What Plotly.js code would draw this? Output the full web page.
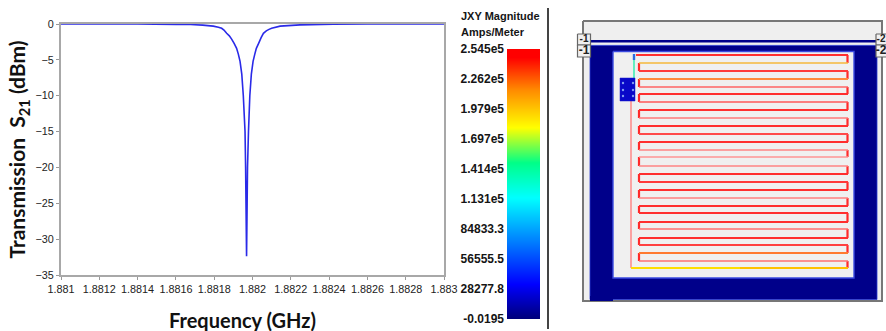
<!DOCTYPE html>
<html>
<head>
<meta charset="utf-8">
<script src="https://cdn.plot.ly/plotly-3.0.1.min.js"></script>
<style>html,body{margin:0;padding:0;background:#fff;overflow:hidden}</style>
</head>
<body>
<div id="chart" style="width:886px;height:331px"></div>
<script>
// ---- S21 curve ----
var freqGHz = [1.881, 1.8812, 1.8814, 1.88149, 1.8816, 1.881677, 1.88174, 1.881795, 1.881822, 1.881839, 1.881851, 1.881865, 1.881879, 1.881891, 1.881904, 1.881917, 1.881926, 1.881935, 1.881944, 1.881952, 1.881961, 1.881964, 1.881966, 1.881969, 1.881972, 1.881974, 1.881979, 1.881986, 1.881994, 1.882003, 1.882012, 1.88202, 1.882032, 1.882045, 1.882057, 1.882072, 1.882086, 1.8821, 1.882144, 1.882248, 1.882422, 1.8826, 1.8828, 1.883];
var s21dBm  = [0, 0, 0, -0.04, -0.05, -0.08, -0.16, -0.3, -0.45, -0.6, -0.85, -1.3, -1.65, -2.1, -2.7, -3.4, -4.2, -5.2, -7, -10, -15, -20, -25, -32.4, -25, -20, -15, -10, -7, -5.2, -4.2, -3.4, -2.7, -1.9, -1.3, -0.95, -0.75, -0.6, -0.3, -0.12, -0.04, 0, 0, 0];
var freqTicks = [1.881, 1.8812, 1.8814, 1.8816, 1.8818, 1.882, 1.8822, 1.8824, 1.8826, 1.8828, 1.883];
var freqTickLabels = ['1.881', '1.8812', '1.8814', '1.8816', '1.8818', '1.882', '1.8822', '1.8824', '1.8826', '1.8828', '1.883'];
var s21Ticks = [0, -5, -10, -15, -20, -25, -30, -35];

// ---- Field-strength legend ----
var jxyValues = [254500, 226200, 197900, 169700, 141400, 113100, 84833.3, 56555.5, 28277.8, -0.0195];
var jxyLabels = ['2.545e5', '2.262e5', '1.979e5', '1.697e5', '1.414e5', '1.131e5', '84833.3', '56555.5', '28277.8', '-0.0195'];
var jxyStops = [[0, '#000078'], [0.13, '#0000ff'], [0.45, '#00ffff'], [0.58, '#00ff88'], [0.71, '#ffff00'], [0.85, '#ff8a00'], [0.97, '#ff0000'], [1, '#ff0000']];

// ---- Layout drawing of the resonator ----
var rowY = [55, 63, 71, 79, 87, 94, 102, 110, 118, 126, 134, 142, 150, 157, 166, 174, 182, 190, 198, 206, 213, 222, 229, 238, 245, 253, 261, 268];
var rowColor = ['#ff2f2f', '#f6b93b', '#ff3b3b', '#ff8a3c', '#ff6565', '#ff2f2f', '#ff5858', '#ff2f2f', '#ff7a7a', '#ff2f2f', '#ff4a4a', '#ff2f2f', '#ff8585', '#ff9494', '#ff8585', '#ff2f2f', '#ff3a3a', '#ff2f2f', '#ff8080', '#ff2f2f', '#ff3030', '#ff2f2f', '#ff7070', '#ff2f2f', '#ff4040', '#ff7a30', '#ff7070', '#ffc000'];

var FONT = 'Liberation Sans, Arial, sans-serif';
var traces = [];
function panel(x, y, o) {
  o = o || {};
  var t = {x: x, y: y, xaxis: 'x3', yaxis: 'y3', type: 'scatter', mode: o.mode || 'lines',
    hoverinfo: 'skip', showlegend: false, cliponaxis: false, line: {color: o.color || '#000', width: o.width === undefined ? 1 : o.width, simplify: false}};
  if (o.fill) { t.fill = 'toself'; t.fillcolor = o.fill; }
  if (o.text) { t.text = o.text; t.textfont = o.font; t.textposition = 'middle center'; }
  if (o.marker) { t.marker = o.marker; }
  traces.push(t);
}
function rect(x0, y0, x1, y1, o) { panel([x0, x1, x1, x0, x0], [y0, y0, y1, y1, y0], o); }

// S21 curve
traces.push({x: freqGHz, y: s21dBm, type: 'scatter', mode: 'lines', xaxis: 'x', yaxis: 'y', cliponaxis: false,
  line: {color: '#2a2ae8', width: 1.6, simplify: false}, showlegend: false, hoverinfo: 'x+y'});

// colour legend
traces.push({x: [0, 1], y: jxyValues, z: jxyValues.map(function (v) { return [v, v]; }), type: 'heatmap',
  xaxis: 'x2', yaxis: 'y2', colorscale: jxyStops, zmin: -0.0195, zmax: 254500, zsmooth: 'best', showscale: false, hoverinfo: 'skip'});

// outer frame, ground plane, cavity
rect(583, 21, 882, 301, {color: '#777777', width: 2, fill: '#efefef'});
rect(590, 40, 877, 42.6, {color: '#00008a', width: 0, fill: '#00008a'});
rect(590, 45.4, 877, 299.5, {color: '#2a3ad0', width: 0.8, fill: '#00008a'});
rect(590, 296, 613, 301, {color: '#00008a', width: 0, fill: '#00008a'});
rect(613, 51.5, 854, 278, {color: '#3a4ae0', width: 1.4, fill: '#f0f0f0'});

// feed line and pad
panel([631, 631], [101, 268], {color: '#ff8080', width: 1.4});
panel([634, 634], [58, 78], {color: '#55eebb', width: 1.8});
panel([634, 634], [54, 60], {color: '#2a6ae0', width: 2.4});
rect(620, 78, 635, 101, {color: '#1a1ad0', width: 0.5, fill: '#0808c8'});
panel([623, 633, 623, 633, 623, 633], [83, 83, 90, 90, 96, 96], {mode: 'markers', marker: {color: '#7f9cf0', size: 2.4}});

// serpentine connectors then rows
rowY.forEach(function (y, k) {
  if (k < rowY.length - 1) {
    var xc = k % 2 === 0 ? 847.5 : 639;
    panel([xc, xc], [y, rowY[k + 1]], {color: '#ff2a2a', width: 2.2});
  }
});
rowY.forEach(function (y, k) {
  var pale = parseInt(rowColor[k].slice(3, 5), 16) > 80 && rowColor[k].slice(5) !== '00' && rowColor[k].slice(5) !== '3c' && rowColor[k].slice(5) !== '30';
  var x0 = k === 0 ? 636 : (k === rowY.length - 1 ? 740 : 639);
  panel([x0, 848], [y, y], {color: rowColor[k], width: pale ? 1.6 : 2});
});
panel([631, 740], [268, 268], {color: '#ffdc00', width: 2});

// port tags
var portFont = {family: FONT, size: 10, color: '#222222', weight: 700};
var portFontLow = {family: FONT, size: 12, color: '#222222', weight: 700};
rect(577.5, 34, 590.5, 45, {color: '#666666', width: 1.2, fill: '#f0f0f0'});
panel([584], [39.5], {mode: 'text', text: ['-1'], font: portFont});
rect(577.5, 45, 590.5, 57, {color: '#666666', width: 1.2, fill: '#f0f0f0'});
panel([584], [51], {mode: 'text', text: ['-1'], font: portFontLow});
rect(876, 34, 890, 45, {color: '#666666', width: 1.2, fill: '#f0f0f0'});
panel([881], [39.5], {mode: 'text', text: ['-2'], font: portFont});
rect(876, 45, 890, 57, {color: '#666666', width: 1.2, fill: '#f0f0f0'});
panel([881], [51], {mode: 'text', text: ['-2'], font: portFontLow});

var W = 886, H = 331;
function dx(a, b) { return [a / W, b / W]; }
function dy(top, bottom) { return [1 - bottom / H, 1 - top / H]; }
var titleFont = {family: 'Lato, Carlito, sans-serif', size: 20, color: '#111111', weight: 700};
var yTitleFont = {family: 'Lato, Carlito, sans-serif', size: 21, color: '#111111', weight: 700};
var legendFont = {family: FONT, size: 11, color: '#151515', weight: 700};
var layout = {
  width: W, height: H, margin: {l: 0, r: 0, t: 0, b: 0}, paper_bgcolor: '#ffffff', plot_bgcolor: 'rgba(0,0,0,0)',
  showlegend: false,
  xaxis: {domain: dx(61, 444), range: [1.881, 1.883], tickvals: freqTicks, ticktext: freqTickLabels, tickangle: 0,
    showgrid: false, zeroline: false, ticks: 'outside', ticklen: 3, tickcolor: '#999999',
    showline: true, linecolor: '#a8a8a8', linewidth: 2, mirror: true, anchor: 'y',
    tickfont: {family: FONT, size: 10.8, color: '#222222'}},
  yaxis: {domain: dy(24, 275), range: [-35, 0], tickvals: s21Ticks, ticks: 'outside', ticklen: 3, tickcolor: '#999999',
    showgrid: false, zeroline: false, showline: true, linecolor: '#a8a8a8', linewidth: 2, mirror: true, anchor: 'x',
    tickfont: {family: FONT, size: 10.8, color: '#222222'},
    title: {text: 'Transmission &nbsp;S<sub>21</sub> (dBm)', font: yTitleFont, standoff: 4}},
  xaxis2: {domain: dx(507, 540), range: [0, 1], visible: false, anchor: 'y2', fixedrange: true},
  yaxis2: {domain: dy(49, 319), range: [-0.0195, 254500], anchor: 'x2', tickvals: jxyValues, ticktext: jxyLabels,
    ticks: '', showgrid: false, zeroline: false, showline: false, ticklabelstandoff: 2,
    tickfont: {family: FONT, size: 12, color: '#151515', weight: 700}},
  xaxis3: {domain: dx(570, 886), range: [570, W], visible: false, anchor: 'y3', fixedrange: true},
  yaxis3: {domain: [0, 1], range: [H, 0], visible: false, anchor: 'x3', fixedrange: true},
  annotations: [
    {text: 'Frequency (GHz)', xref: 'paper', yref: 'paper', x: 242.5 / W, y: 1 - 320 / H, showarrow: false, font: titleFont, xanchor: 'center', yanchor: 'middle'},
    {text: 'JXY Magnitude', xref: 'paper', yref: 'paper', x: 459 / W, y: 1 - 16 / H, showarrow: false, xanchor: 'left', yanchor: 'middle', font: legendFont},
    {text: 'Amps/Meter', xref: 'paper', yref: 'paper', x: 459 / W, y: 1 - 32 / H, showarrow: false, xanchor: 'left', yanchor: 'middle', font: legendFont}
  ],
  shapes: [{type: 'line', xref: 'paper', yref: 'paper', x0: 548 / W, x1: 548 / W, y0: 1 - 329 / H, y1: 1 - 8 / H, line: {color: '#444444', width: 2}}]
};
Plotly.newPlot('chart', traces, layout, {staticPlot: true, displayModeBar: false});
</script>
</body>
</html>
